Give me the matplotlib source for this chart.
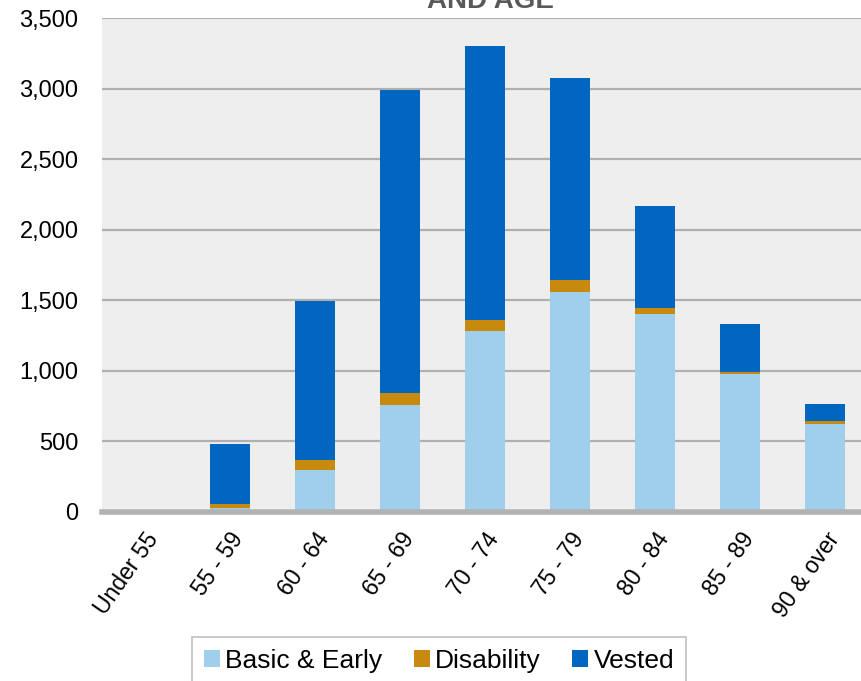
import matplotlib.pyplot as plt
import numpy as np

plt.rcParams['font.family'] = ['Liberation Sans', 'DejaVu Sans']

# Daten
ages = ['Under 55', '55 - 59', '60 - 64', '65 - 69', '70 - 74',
        '75 - 79', '80 - 84', '85 - 89', '90 & over']
basic = [2, 25, 300, 755, 1280, 1560, 1400, 980, 625]
disability = [6, 35, 70, 85, 80, 85, 45, 15, 20]
vested = [3, 425, 1125, 2150, 1940, 1430, 720, 340, 120]

fig = plt.figure(figsize=(8.61, 6.81), dpi=100)
ax = fig.add_axes([102/861, 169/681, 766/861, 494/681])
ax.set_facecolor('#eeeeee')

x = np.arange(len(ages))
b1 = np.array(basic)
b2 = b1 + np.array(disability)
w = 0.47
ax.bar(x, basic, w, color='#a0cfeb', label='Basic & Early', zorder=3)
ax.bar(x, disability, w, bottom=b1, color='#c8890f', label='Disability', zorder=3)
ax.bar(x, vested, w, bottom=b2, color='#0066bf', label='Vested', zorder=3)

ax.set_xlim(-0.5, len(ages) - 0.5)
ax.set_ylim(0, 3500)
ax.set_yticks(range(0, 3501, 500))
ax.set_yticklabels([f'{v:,}' for v in range(0, 3501, 500)], fontsize=17)
ax.grid(axis='y', color='#b0b0b0', linewidth=1.6, zorder=1)
ax.set_axisbelow(True)
for s in ['left', 'right', 'top']:
    ax.spines[s].set_visible(False)
ax.spines['bottom'].set_color('#b3b3b3')
ax.spines['bottom'].set_linewidth(4)
ax.spines['bottom'].set_zorder(4)
ax.tick_params(axis='both', length=0)
ax.tick_params(axis='y', pad=17)
ax.tick_params(axis='x', pad=12)
ax.set_xticks(x)
ax.set_xticklabels(ages, fontsize=16.5, rotation=55, ha='right',
                   rotation_mode='anchor')

# Titel (oben abgeschnitten)
fig.text(490/861, 1 - 8/681, 'AND AGE', ha='center', va='baseline',
         fontsize=20, fontweight='bold', color='#595959')

leg = fig.legend(loc='upper center', bbox_to_anchor=(439/861, 1 - 637/681),
                 ncol=3, fontsize=19, frameon=True, fancybox=False,
                 handlelength=0.6, handleheight=0.6, handletextpad=0.2,
                 columnspacing=1.2, borderpad=0.45, borderaxespad=0)
leg.get_frame().set_edgecolor('#b0b0b0')
leg.get_frame().set_linewidth(1.2)

fig.savefig('out.png', dpi=100)
